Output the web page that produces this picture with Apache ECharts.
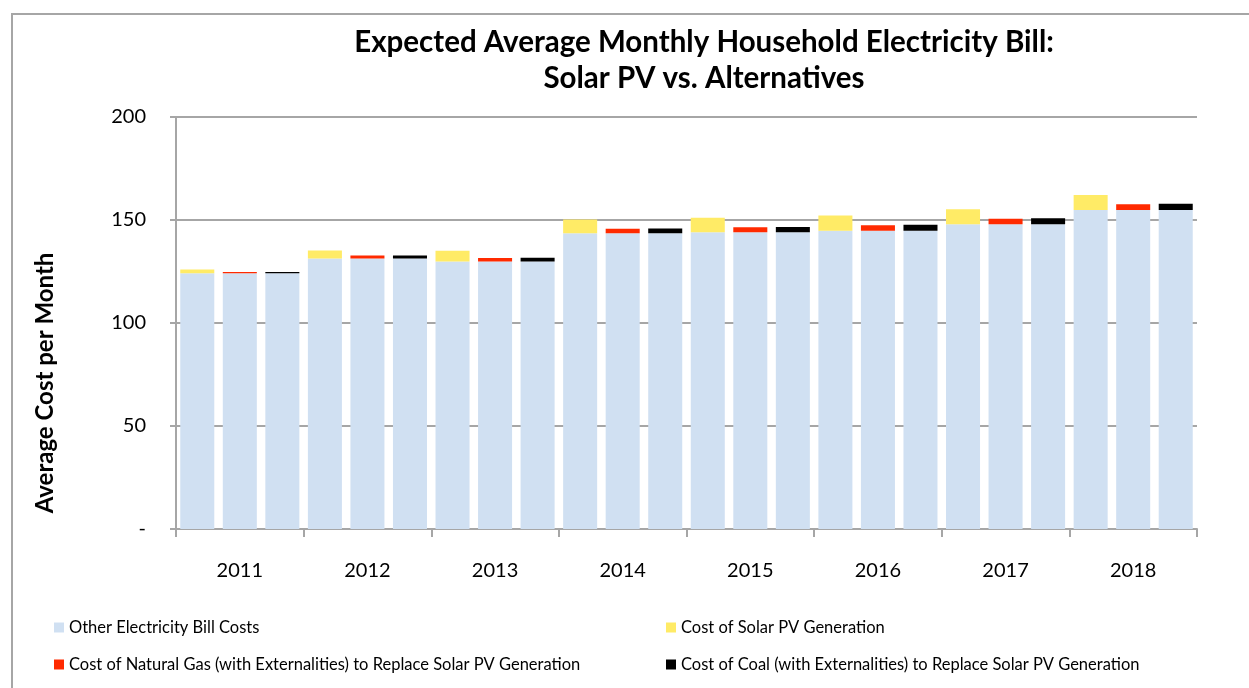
<!DOCTYPE html>
<html>
<head>
<meta charset="utf-8">
<script src="https://cdn.jsdelivr.net/npm/echarts@6/dist/echarts.min.js"></script>
<style>html,body{margin:0;padding:0;background:#fff;}#c{width:1249px;height:688px;}</style>
</head>
<body>
<div id="c"></div>
<script>
const years = ['2011','2012','2013','2014','2015','2016','2017','2018'];
const otherCosts = [124.2, 131.3, 129.8, 143.6, 144.0, 144.8, 147.9, 154.8];
const solarCost  = [1.8, 3.9, 5.3, 6.6, 7.1, 7.4, 7.3, 7.3];
const gasCost    = [0.5, 1.5, 1.8, 2.2, 2.5, 2.7, 2.7, 2.8];
const coalCost   = [0.6, 1.5, 1.9, 2.3, 2.6, 2.9, 2.9, 3.1];
const yTicks = [0, 50, 100, 150, 200];

const names = ['Other Electricity Bill Costs','Cost of Solar PV Generation',
  'Cost of Natural Gas (with Externalities) to Replace Solar PV Generation',
  'Cost of Coal (with Externalities) to Replace Solar PV Generation'];
const colors = ['#D0E0F2','#FFEB66','#FF2A00','#000000'];

const slots = [];
const baseData = [], solarData = [], gasData = [], coalData = [];
years.forEach((y, i) => {
  for (let k = 0; k < 3; k++) {
    slots.push(y + '-' + k);
    baseData.push(otherCosts[i]);
    solarData.push(k === 0 ? solarCost[i] : '-');
    gasData.push(k === 1 ? gasCost[i] : '-');
    coalData.push(k === 2 ? coalCost[i] : '-');
  }
});

const FONT = 'Lato';
const gray = '#A6A6A6';
const chart = echarts.init(document.getElementById('c'));
const legendBase = {
  icon: 'rect', itemWidth: 10, itemHeight: 10, itemGap: 0,
  textStyle: { fontFamily: FONT, fontSize: 16.5, color: '#000', padding: [0,0,0,0] },
  selectedMode: false
};
chart.setOption({
  animation: false,
  backgroundColor: '#fff',
  title: {
    text: 'Expected Average Monthly Household Electricity Bill:\nSolar PV vs. Alternatives',
    left: 699, top: 19, textAlign: 'center',
    textStyle: { fontFamily: FONT, fontWeight: 'bold', fontSize: 29.5, lineHeight: 36, color: '#000' }
  },
  legend: [
    Object.assign({}, legendBase, { data: [names[0]], left: 49, top: 614 }),
    Object.assign({}, legendBase, { data: [names[1]], left: 661, top: 614 }),
    Object.assign({}, legendBase, { data: [names[2]], left: 49, top: 651 }),
    Object.assign({}, legendBase, { data: [names[3]], left: 661, top: 651 })
  ],
  graphic: [
    { type: 'rect', silent: true, shape: { x: 12, y: 14, width: 1300, height: 720 },
      style: { fill: 'none', stroke: gray, lineWidth: 2 } },
    { type: 'text', x: 45, y: 383, rotation: Math.PI / 2,
      style: { text: 'Average Cost per Month', font: 'bold 24px Lato', fill: '#000',
               textAlign: 'center', textVerticalAlign: 'middle' } }
  ],
  grid: { left: 176, right: 52, top: 117, bottom: 159 },
  xAxis: [
    { type: 'category', data: slots, position: 'bottom',
      axisLine: { show: true, lineStyle: { color: gray, width: 2 } },
      axisTick: { show: false }, axisLabel: { show: false } },
    { type: 'category', data: years, position: 'bottom',
      axisLine: { show: false },
      axisTick: { show: true, length: 8, interval: 0, lineStyle: { color: gray, width: 2 } },
      axisLabel: { margin: 32, fontFamily: FONT, fontSize: 20, color: '#000' } }
  ],
  yAxis: {
    type: 'value', min: yTicks[0], max: yTicks[yTicks.length - 1], interval: 50,
    axisLine: { show: true, lineStyle: { color: gray, width: 2 } },
    axisTick: { show: true, length: 6, lineStyle: { color: gray, width: 2 } },
    splitLine: { show: true, lineStyle: { color: gray, width: 2 } },
    axisLabel: { margin: 30, fontFamily: FONT, fontSize: 20, color: '#000',
      formatter: v => v === 0 ? '-' : String(v) }
  },
  series: [
    { name: names[0], type: 'bar', stack: 's', data: baseData, barCategoryGap: '20%',
      itemStyle: { color: colors[0] } },
    { name: names[1], type: 'bar', stack: 's', data: solarData, itemStyle: { color: colors[1] } },
    { name: names[2], type: 'bar', stack: 's', data: gasData, itemStyle: { color: colors[2] } },
    { name: names[3], type: 'bar', stack: 's', data: coalData, itemStyle: { color: colors[3] } }
  ]
});
</script>
</body>
</html>
